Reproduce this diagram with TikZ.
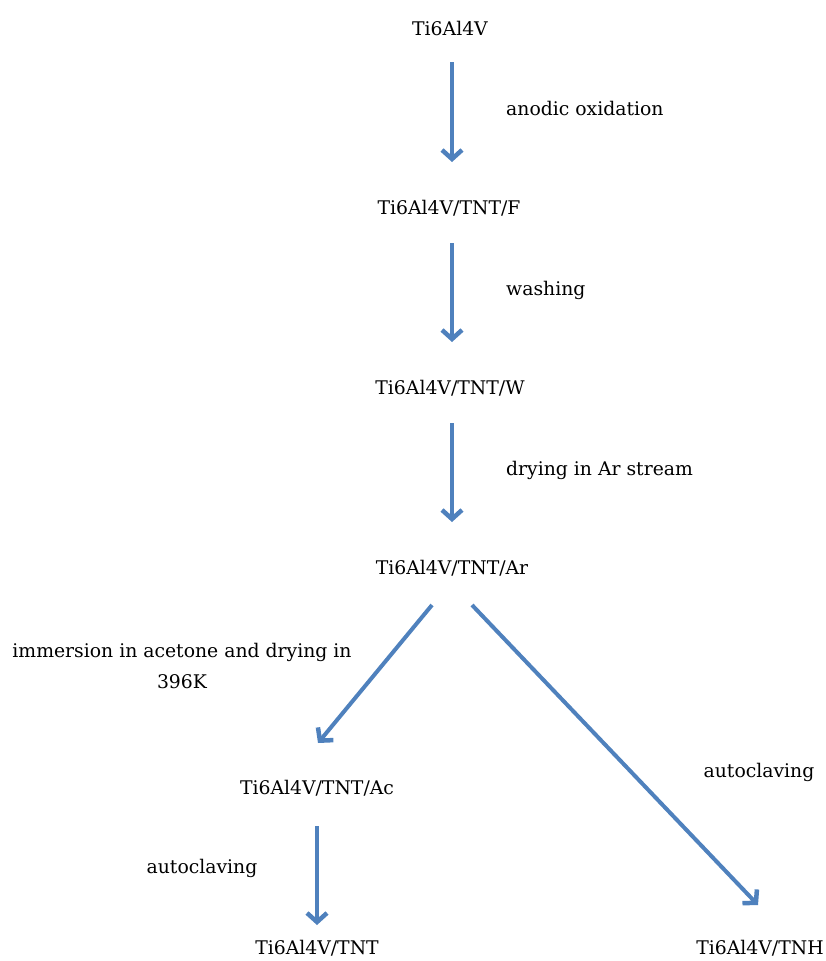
\documentclass[tikz,border=0pt]{standalone}
\usepackage{fontspec}
\setmainfont{DejaVu Serif}
\usetikzlibrary{arrows.meta}
\definecolor{arrblue}{HTML}{4F81BD}
\begin{document}
\begin{tikzpicture}[x=1pt,y=-1pt,
  lbl/.style={font=\fontsize{18.8}{31}\selectfont, inner sep=0pt},
  arr/.style={draw=arrblue, line width=4pt, -{Straight Barb[length=9pt,width=20pt,line width=4.5pt]}}]
\useasboundingbox (0,0) rectangle (826,961);
\node[lbl] (n1) at (450,28) {Ti6Al4V};
\node[lbl] (n2) at (449,208) {Ti6Al4V/TNT/F};
\node[lbl] (n3) at (450,388) {Ti6Al4V/TNT/W};
\node[lbl] (n4) at (452,568) {Ti6Al4V/TNT/Ar};
\node[lbl] (n5) at (317,788) {Ti6Al4V/TNT/Ac};
\node[lbl] (n6) at (317,948) {Ti6Al4V/TNT};
\node[lbl] (n7) at (760,948) {Ti6Al4V/TNH};
\node[lbl, anchor=west] (l1) at (506,108) {anodic oxidation};
\node[lbl, anchor=west] (l2) at (506,290) {washing};
\node[lbl, anchor=west] (l3) at (506,470) {drying in Ar stream};
\node[lbl, align=center] (l4) at (182,666) {immersion in acetone and drying in\\396K};
\node[lbl] (l5) at (202,868) {autoclaving};
\node[lbl] (l6) at (759,772) {autoclaving};
\draw[arr] ([xshift=2,yshift=-34]n1.center) -- ([xshift=3,yshift=46]n2.center);
\draw[arr] ([xshift=3,yshift=-35]n2.center) -- ([xshift=2,yshift=46]n3.center);
\draw[arr] ([xshift=2,yshift=-35]n3.center) -- ([xshift=0,yshift=46]n4.center);
\draw[arr] ([xshift=-20,yshift=-37]n4.center) -- ([xshift=1,yshift=45]n5.center);
\draw[arr] ([yshift=-38]n5.center) -- ([yshift=23]n6.center);
\draw[arr] ([xshift=20,yshift=-37]n4.center) -- ([xshift=-2,yshift=43]n7.center);
\end{tikzpicture}
\end{document}
